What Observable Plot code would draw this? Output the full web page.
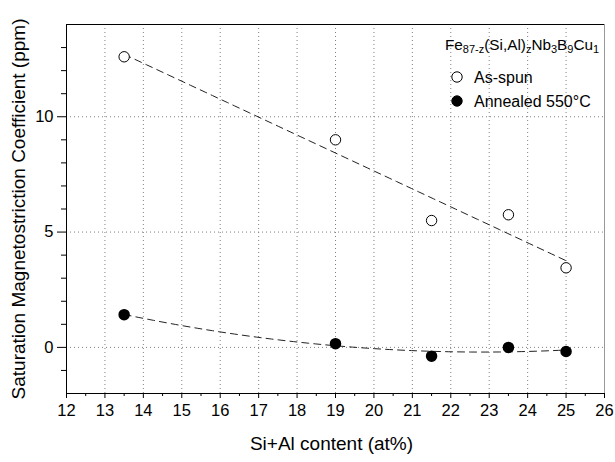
<!DOCTYPE html>
<html>
<head>
<meta charset="utf-8">
<script src="https://cdn.jsdelivr.net/npm/d3@7"></script>
<script src="https://cdn.jsdelivr.net/npm/@observablehq/plot@0.6"></script>
<style>
  body { margin: 0; background: #fff; }
  #chart svg { display: block; }
</style>
</head>
<body>
<div id="chart"></div>
<script>
// Si+Al content (at%) of the Fe87-z(Si,Al)zNb3B9Cu1 ribbons
const siAl = [13.5, 19, 21.5, 23.5, 25];
// Saturation magnetostriction (ppm)
const asSpun = [12.6, 9.0, 5.5, 5.75, 3.45];
const annealed = [1.42, 0.16, -0.38, 0.0, -0.18];

// Axis ticks
const xTicks = [12, 13, 14, 15, 16, 17, 18, 19, 20, 21, 22, 23, 24, 25, 26];
const xMinor = [12.5, 13.5, 14.5, 15.5, 16.5, 17.5, 18.5, 19.5, 20.5, 21.5, 22.5, 23.5, 24.5, 25.5];
const xGrid = [13, 14, 15, 16, 17, 18, 19, 20, 21, 22, 23, 24, 25];
const yTicks = [0, 5, 10];
const yMinor = [-1, 1, 2, 3, 4, 6, 7, 8, 9, 11, 12, 13];

const seriesNames = ["As-spun", "Annealed 550°C"];

const spunPts = siAl.map((x, i) => ({x, y: asSpun[i]}));
const annealPts = siAl.map((x, i) => ({x, y: annealed[i]}));

// Least-squares polynomial fit (degree 1 or 2) used for the dashed trend curves
function polyfit(pts, deg) {
  const n = deg + 1;
  const A = Array.from({length: n}, () => new Array(n + 1).fill(0));
  for (const {x, y} of pts) {
    for (let r = 0; r < n; r++) {
      for (let c = 0; c < n; c++) A[r][c] += Math.pow(x, r + c);
      A[r][n] += Math.pow(x, r) * y;
    }
  }
  for (let i = 0; i < n; i++) {
    let p = i;
    for (let k = i + 1; k < n; k++) if (Math.abs(A[k][i]) > Math.abs(A[p][i])) p = k;
    [A[i], A[p]] = [A[p], A[i]];
    for (let k = i + 1; k < n; k++) {
      const f = A[k][i] / A[i][i];
      for (let c = i; c <= n; c++) A[k][c] -= f * A[i][c];
    }
  }
  const coef = new Array(n).fill(0);
  for (let i = n - 1; i >= 0; i--) {
    let s = A[i][n];
    for (let c = i + 1; c < n; c++) s -= A[i][c] * coef[c];
    coef[i] = s / A[i][i];
  }
  return x => coef.reduce((s, a, k) => s + a * Math.pow(x, k), 0);
}

function fitCurve(pts, deg) {
  const f = polyfit(pts, deg);
  const [x0, x1] = d3.extent(pts, d => d.x);
  return d3.range(0, 61).map(i => {
    const x = x0 + (x1 - x0) * i / 60;
    return {x, y: f(x)};
  });
}

const spunFit = fitCurve(spunPts, 1);
const annealFit = fitCurve(annealPts, 2);

const font = "'Liberation Sans', Arial, Helvetica, sans-serif";

const plot = Plot.plot({
  width: 615,
  height: 462,
  marginLeft: 66,
  marginRight: 11,
  marginTop: 24,
  marginBottom: 69,
  style: {fontFamily: font, fontSize: "16px", background: "#fff", color: "#000"},
  x: {domain: [12, 26]},
  y: {domain: [-2, 14]},
  marks: [
    Plot.gridX(xGrid, {stroke: "#808080", strokeOpacity: 1, strokeDasharray: "1,3"}),
    Plot.gridY(yTicks, {stroke: "#808080", strokeOpacity: 1, strokeDasharray: "1,3"}),
    Plot.frame({stroke: "#000"}),
    Plot.ruleX([26], {stroke: "#999"}),
    Plot.axisX(xTicks, {tickSize: 5, tickPadding: 6, fontSize: 16.5, label: null}),
    Plot.axisX(xMinor, {tickSize: 3, tickFormat: () => "", label: null}),
    Plot.axisY(yTicks, {tickSize: 9, tickPadding: 4, fontSize: 16.5, label: null}),
    Plot.axisY(yMinor, {tickSize: 5, tickFormat: () => "", label: null}),
    Plot.line(spunFit, {x: "x", y: "y", stroke: "#222", strokeWidth: 1, strokeDasharray: "7,5"}),
    Plot.line(annealFit, {x: "x", y: "y", stroke: "#222", strokeWidth: 1, strokeDasharray: "7,5"}),
    Plot.dot(spunPts, {x: "x", y: "y", r: 5.2, stroke: "#000", strokeWidth: 1, fill: "#fff"}),
    Plot.dot(annealPts, {x: "x", y: "y", r: 5, stroke: "#000", fill: "#000"}),
    Plot.text(["Si+Al content (at%)"], {frameAnchor: "bottom", dy: 50, dx: -4, fontSize: 19, lineAnchor: "middle", textAnchor: "middle"}),
    Plot.text(["Saturation Magnetostriction Coefficient (ppm)"], {frameAnchor: "left", dx: -48, rotate: -90, fontSize: 19, lineAnchor: "middle", textAnchor: "middle"})
  ]
});

// Legend inside the upper-right corner of the frame
const svg = d3.select(plot);
const lg = svg.append("g").attr("font-family", font).attr("fill", "#000").attr("text-anchor", "start");
const title = lg.append("text").attr("x", 445).attr("y", 50).attr("font-size", 15.3);
const parts = [["Fe", 0], ["87-z", 1], ["(Si,Al)", 0], ["z", 1], ["Nb", 0], ["3", 1], ["B", 0], ["9", 1], ["Cu", 0], ["1", 1]];
let shifted = false;
for (const [t, sub] of parts) {
  const ts = title.append("tspan").text(t);
  if (sub && !shifted) { ts.attr("dy", 3).attr("font-size", 11); shifted = true; }
  else if (sub) { ts.attr("font-size", 11); }
  else if (shifted) { ts.attr("dy", -3); shifted = false; }
}
const rows = [
  {name: seriesNames[0], fill: "#fff", y: 77},
  {name: seriesNames[1], fill: "#000", y: 101}
];
for (const r of rows) {
  lg.append("circle").attr("cx", 457).attr("cy", r.y).attr("r", 5.2)
    .attr("fill", r.fill).attr("stroke", "#000");
  lg.append("text").attr("x", 474).attr("y", r.y).attr("dy", "0.35em")
    .attr("font-size", 16).text(r.name);
}

document.getElementById("chart").append(plot);
</script>
</body>
</html>
